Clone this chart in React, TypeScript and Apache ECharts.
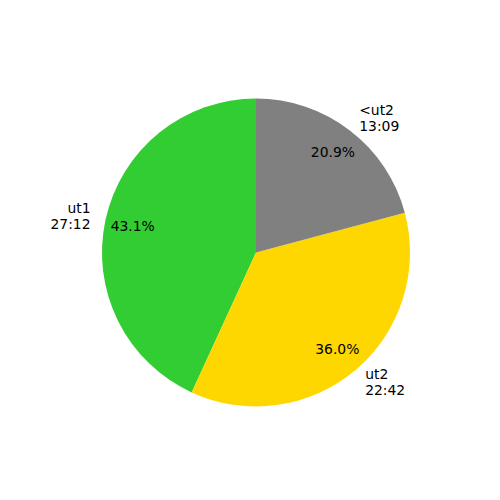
import React, { useEffect, useRef } from "react";
import * as echarts from "echarts";

const categories = ["ut1", "ut2", "<ut2"];
const durations = ["27:12", "22:42", "13:09"];
const colors = ["#32CD32", "#FFD700", "#808080"];

const toSeconds = (s: string) => {
  const [m, sec] = s.split(":").map(Number);
  return m * 60 + sec;
};

export default function App() {
  const ref = useRef<HTMLDivElement>(null);
  useEffect(() => {
    if (!ref.current) return;
    const chart = echarts.init(ref.current, null, { renderer: "svg" });
    const values = durations.map(toSeconds);
    const total = values.reduce((a, b) => a + b, 0);
    const R = 154;
    const center = [256, 252.5];
    const font = { fontFamily: "DejaVu Sans", fontSize: 13.9, color: "#000", lineHeight: 16 };
    chart.setOption({
      animation: false,
      backgroundColor: "#fff",
      series: [
        {
          type: "pie",
          center,
          radius: [0, R],
          startAngle: 90,
          clockwise: false,
          avoidLabelOverlap: false,
          silent: true,
          data: categories.map((c, i) => ({
            name: c,
            value: values[i],
            itemStyle: { color: colors[i] },
          })),
          label: {
            show: true,
            position: "outside",
            rotate: 0,
            distanceToLabelLine: 0,
            formatter: (p: any) => `${p.name}\n${durations[p.dataIndex]}`,
            ...font,
          },
          labelLine: { show: false, length: R * 0.1, length2: 0 },
          emphasis: { disabled: true },
        },
        {
          type: "pie",
          center,
          radius: [R * 0.6, R],
          startAngle: 90,
          clockwise: false,
          avoidLabelOverlap: false,
          silent: true,
          data: categories.map((c, i) => ({
            name: c,
            value: values[i],
            itemStyle: { color: "rgba(0,0,0,0)" },
          })),
          label: {
            show: true,
            position: "inside",
            rotate: 0,
            formatter: (p: any) => `${((values[p.dataIndex] / total) * 100).toFixed(1)}%`,
            ...font,
          },
          labelLine: { show: false },
          emphasis: { disabled: true },
        },
      ],
    });
    return () => chart.dispose();
  }, []);
  return (
    <div
      ref={ref}
      style={{ position: "fixed", left: 0, top: 0, width: 500, height: 500 }}
    />
  );
}
